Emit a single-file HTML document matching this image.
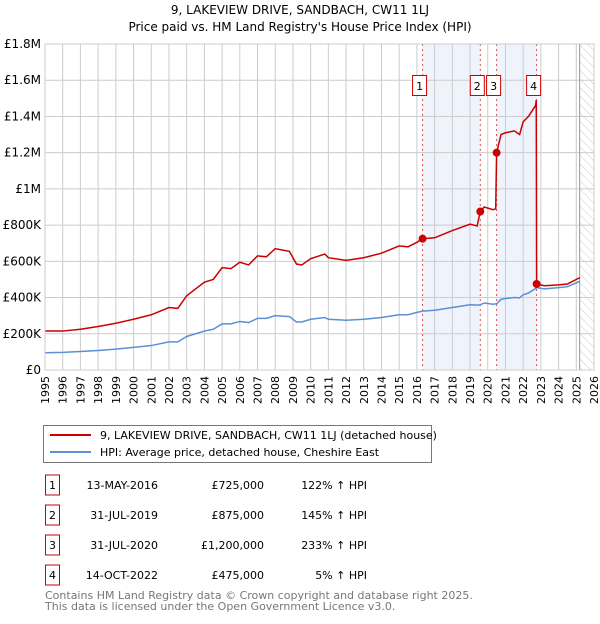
<!DOCTYPE html>
<html><head><meta charset="utf-8"><style>
body{margin:0;background:#fff;width:600px;height:620px;overflow:hidden;font-family:"DejaVu Sans","Liberation Sans",sans-serif}
</style></head><body>
<svg id="c" width="600" height="620" xmlns="http://www.w3.org/2000/svg" font-family="DejaVu Sans, Liberation Sans, sans-serif">
<defs><pattern id="hatch" width="6" height="6" patternUnits="userSpaceOnUse" patternTransform="rotate(-45)"><line x1="0" y1="0" x2="0" y2="6" stroke="#ccc" stroke-width="1"/></pattern></defs>
<text x="300" y="14" text-anchor="middle" font-size="12">9, LAKEVIEW DRIVE, SANDBACH, CW11 1LJ</text>
<text x="300" y="31" text-anchor="middle" font-size="12">Price paid vs. HM Land Registry's House Price Index (HPI)</text>
<g id="plot"></g>
<g>
<rect x="43.5" y="425.5" width="388" height="37" fill="#fff" stroke="#777"/>
<line x1="50" y1="435" x2="91" y2="435" stroke="#cc0000" stroke-width="2"/>
<text x="100" y="439" font-size="11">9, LAKEVIEW DRIVE, SANDBACH, CW11 1LJ (detached house)</text>
<line x1="50" y1="452" x2="91" y2="452" stroke="#5b8fd6" stroke-width="2"/>
<text x="100" y="456" font-size="11">HPI: Average price, detached house, Cheshire East</text>
</g>
<g id="table" font-size="11"></g>
<text x="45" y="599" font-size="11" fill="#777">Contains HM Land Registry data © Crown copyright and database right 2025.</text>
<text x="45" y="610" font-size="11" fill="#777">This data is licensed under the Open Government Licence v3.0.</text>
</svg>
<script>
const dates=[1995,1996,1997,1998,1999,2000,2001,2002,2002.5,2003,2004,2004.5,2005,2005.5,2006,2006.5,2007,2007.5,2008,2008.8,2009.2,2009.5,2010,2010.8,2011,2012,2013,2014,2015,2015.5,2016,2016.32,2017,2018,2019,2019.4,2019.58,2019.8,2020.3,2020.45,2020.5,2020.75,2021,2021.5,2021.8,2022,2022.3,2022.7,2022.74,2022.76,2023.2,2024,2024.5,2025.2];
const hpi=[95,97,102,108,115,125,135,155,155,185,215,225,255,255,268,262,285,285,300,295,265,265,280,290,280,275,280,290,305,305,318,325,330,345,360,358,360,370,363,365,365,390,395,400,398,415,425,450,455,455,448,455,460,490];
const prop=[215,215,225,240,258,280,305,345,340,410,485,500,565,560,595,580,630,625,670,655,585,580,615,640,620,605,620,645,685,680,705,725,730,770,805,795,875,900,885,890,1200,1300,1310,1320,1300,1370,1400,1460,1490,475,465,470,475,510];
const saleDates=[2016.32,2019.58,2020.5,2022.76];
const salePrices=[725,875,1200,475];
const saleLabels=["1","2","3","4"];
const saleDateText=["13-MAY-2016","31-JUL-2019","31-JUL-2020","14-OCT-2022"];
const salePriceText=["£725,000","£875,000","£1,200,000","£475,000"];
const saleHpiText=["122% ↑ HPI","145% ↑ HPI","233% ↑ HPI","5% ↑ HPI"];
const yTicks=[0,200,400,600,800,1000,1200,1400,1600,1800];
const yTickLabels=["£0","£200K","£400K","£600K","£800K","£1M","£1.2M","£1.4M","£1.6M","£1.8M"];
const xYears=[];for(let y=1995;y<=2026;y++)xYears.push(y);

const NS="http://www.w3.org/2000/svg";
const X0=45,X1=594,Y0=370,Y1=44;
const x=v=>X0+(v-1995)*(X1-X0)/31;
const y=v=>Y0-v*(Y0-Y1)/1800;
const plot=document.getElementById('plot');
function mk(tag,attrs,parent){const e=document.createElementNS(NS,tag);for(const k in attrs)e.setAttribute(k,attrs[k]);(parent||plot).appendChild(e);return e;}
let s1=mk('rect',{x:x(saleDates[0]),y:Y1,width:x(saleDates[1])-x(saleDates[0]),height:Y0-Y1,fill:'#eef3fc'});


let s2=mk('rect',{x:x(saleDates[2]),y:Y1,width:x(saleDates[3])-x(saleDates[2]),height:Y0-Y1,fill:'#eef3fc'});


xYears.forEach(v=>{const l=mk('line',{x1:x(v),x2:x(v),y1:Y1,y2:Y0,stroke:'#ccc'});


const t=mk('text',{x:0,y:0,'font-size':11,'text-anchor':'end',transform:`translate(${x(v)+4},${Y0+6}) rotate(-90)`});t.textContent=v;

});
yTicks.forEach((v,i)=>{const l=mk('line',{x1:X0,x2:X1,y1:y(v),y2:y(v),stroke:'#ccc'});


const t=mk('text',{x:X0-4,y:y(v)+4,'font-size':12,'text-anchor':'end'});t.textContent=yTickLabels[i];

});
const hx=x(2025.19);
const h=mk('rect',{x:hx,y:Y1,width:X1-hx,height:Y0-Y1,fill:'url(#hatch)'});


mk('line',{x1:hx,x2:hx,y1:Y1,y2:Y0,stroke:'#999'});
saleDates.forEach((d,i)=>{const l=mk('line',{x1:x(d),x2:x(d),y1:Y1,y2:Y0,stroke:'#e05050','stroke-dasharray':'2,3','stroke-width':1});

});
const hp=mk('polyline',{points:dates.map((d,i)=>x(d)+','+y(hpi[i])).join(' '),fill:'none',stroke:'#5b8fd6','stroke-width':1.5});


const pp=mk('polyline',{points:dates.map((d,i)=>x(d)+','+y(prop[i])).join(' '),fill:'none',stroke:'#cc0000','stroke-width':1.5});


saleDates.forEach((d,i)=>{const c=mk('circle',{cx:x(d),cy:y(salePrices[i]),r:4,fill:'#cc0000'});


const g=mk('g',{});


const cx=x(d)-3;
mk('rect',{x:cx-7,y:75.5,width:14,height:20,fill:'#fff',stroke:'#cc0000'},g);
const t=mk('text',{x:cx,y:90,'font-size':11,'text-anchor':'middle'},g);t.textContent=saleLabels[i];});
mk('rect',{x:X0,y:Y1,width:X1-X0,height:Y0-Y1,fill:'none',stroke:'#ccc'});
const tb=document.getElementById('table');
const rowY=[487,517,547,577];
saleLabels.forEach((lab,i)=>{const g=mk('g',{},tb);


mk('rect',{x:45.5,y:rowY[i]-12,width:14,height:20,fill:'#fff',stroke:'#cc0000'},g);
let t=mk('text',{x:52.5,y:rowY[i]+2,'text-anchor':'middle'},g);t.textContent=lab;
t=mk('text',{x:158,y:rowY[i]+2,'text-anchor':'end'},g);t.textContent=saleDateText[i];
t=mk('text',{x:264,y:rowY[i]+2,'text-anchor':'end'},g);t.textContent=salePriceText[i];
t=mk('text',{x:367,y:rowY[i]+2,'text-anchor':'end'},g);t.textContent=saleHpiText[i];});
</script>
</body></html>
